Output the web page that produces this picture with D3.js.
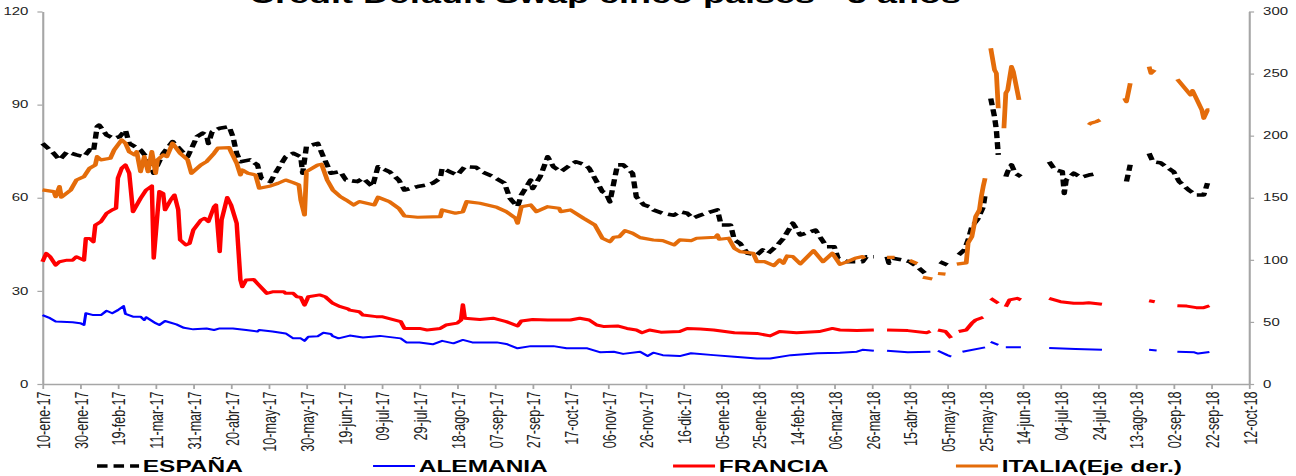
<!DOCTYPE html>
<html>
<head>
<meta charset="utf-8">
<script src="https://cdn.jsdelivr.net/npm/d3@7"></script>
<style>
  html, body { margin: 0; padding: 0; background: #ffffff; }
  svg { display: block; font-family: "Liberation Sans", Arial, sans-serif; }
</style>
</head>
<body>
<svg id="chart" width="1296" height="476"></svg>
<script>
// ---- Data -------------------------------------------------------------
const chartTitle = "Credit Default Swap cinco países - 5 años";

const xTickLabels = ["10-ene-17","30-ene-17","19-feb-17","11-mar-17","31-mar-17","20-abr-17",
  "10-may-17","30-may-17","19-jun-17","09-jul-17","29-jul-17","18-ago-17","07-sep-17",
  "27-sep-17","17-oct-17","06-nov-17","26-nov-17","16-dic-17","05-ene-18","25-ene-18",
  "14-feb-18","06-mar-18","26-mar-18","15-abr-18","05-may-18","25-may-18","14-jun-18",
  "04-jul-18","24-jul-18","13-ago-18","02-sep-18","22-sep-18","12-oct-18"];
const leftTicks = [0, 30, 60, 90, 120];
const rightTicks = [0, 50, 100, 150, 200, 250, 300];
const seriesNames = ["ESPAÑA", "ALEMANIA", "FRANCIA", "ITALIA(Eje der.)"];

// CDS 5 años (pb). null = día sin cotización
const espana = [["2017-01-10",77.5],["2017-01-16",74.3],["2017-01-19",72.2],["2017-01-23",74.8],["2017-01-28",73.8],["2017-02-01",73.2],["2017-02-04",75.4],["2017-02-06",74.8],["2017-02-08",82.9],["2017-02-09",83.4],["2017-02-13",80.2],["2017-02-17",79.1],["2017-02-20",79.7],["2017-02-23",81.8],["2017-02-25",77.5],["2017-03-03",75.4],["2017-03-06",73.2],["2017-03-10",67.9],["2017-03-15",74.3],["2017-03-20",78.1],["2017-03-26",74.3],["2017-03-28",73.2],["2017-04-02",79.7],["2017-04-05",80.8],["2017-04-07",80.2],["2017-04-08",77.5],["2017-04-10",81.3],["2017-04-14",82.4],["2017-04-19",82.9],["2017-04-21",79.7],["2017-04-23",74.3],["2017-04-25",71.6],["2017-04-30",72.2],["2017-05-04",70.6],["2017-05-06",66.3],["2017-05-11",65.2],["2017-05-14",68.4],["2017-05-19",73.2],["2017-05-23",74.3],["2017-05-27",73.2],["2017-05-28",67.9],["2017-05-30",76.5],["2017-06-05",77.5],["2017-06-08",73.2],["2017-06-12",67.9],["2017-06-17",68.4],["2017-06-20",65.7],["2017-06-26",65.2],["2017-06-29",66.3],["2017-07-04",63.6],["2017-07-07",70.0],["2017-07-13",68.4],["2017-07-18",65.7],["2017-07-21",62.5],["2017-07-28",63.6],["2017-08-02",64.1],["2017-08-05",64.7],["2017-08-09",66.3],["2017-08-10",69.5],["2017-08-14",68.4],["2017-08-18",67.3],["2017-08-22",70.0],["2017-08-28",69.8],["2017-08-31",68.4],["2017-09-06",66.8],["2017-09-12",64.7],["2017-09-15",59.8],["2017-09-19",57.1],["2017-09-21",60.9],["2017-09-26",65.7],["2017-09-27",63.0],["2017-10-01",66.8],["2017-10-05",73.2],["2017-10-08",70.0],["2017-10-12",68.4],["2017-10-17",70.6],["2017-10-20",71.6],["2017-10-25",70.6],["2017-10-27",69.5],["2017-10-29",67.3],["2017-11-03",62.0],["2017-11-05",61.4],["2017-11-07",58.7],["2017-11-09",64.7],["2017-11-11",70.6],["2017-11-14",70.6],["2017-11-19",67.9],["2017-11-21",60.3],["2017-11-25",57.7],["2017-11-28",57.1],["2017-11-30",56.1],["2017-12-05",55.0],["2017-12-11",54.4],["2017-12-14",55.5],["2017-12-18",55.0],["2017-12-21",53.4],["2017-12-25",54.4],["2017-12-28",55.0],["2018-01-03",56.1],["2018-01-05",51.2],["2018-01-10",51.2],["2018-01-12",46.4],["2018-01-15",45.3],["2018-01-19",42.1],["2018-01-24",41.6],["2018-01-27",43.2],["2018-01-30",42.1],["2018-02-04",44.8],["2018-02-07",46.9],["2018-02-12",51.8],["2018-02-16",48.0],["2018-02-19",48.6],["2018-02-24",49.6],["2018-02-27",46.9],["2018-03-02",44.2],["2018-03-06",44.2],["2018-03-08",40.5],["2018-03-13",39.4],["2018-03-21",39.4],["2018-03-23",41.0],["2018-03-27",41.0],["2018-03-30",null],["2018-04-03",41.0],["2018-04-04",38.9],["2018-04-06",40.5],["2018-04-12",39.9],["2018-04-15",39.4],["2018-04-19",37.8],["2018-04-23",35.7],["2018-04-27",null],["2018-05-01",39.4],["2018-05-05",38.3],["2018-05-08",null],["2018-05-11",41.6],["2018-05-14",43.2],["2018-05-16",46.4],["2018-05-18",50.7],["2018-05-21",53.0],["2018-05-24",57.0],["2018-05-25",61.0],["2018-05-27",null],["2018-05-28",92.0],["2018-05-30",86.1],["2018-05-31",81.8],["2018-06-01",73.8],["2018-06-03",null],["2018-06-05",66.8],["2018-06-06",68.4],["2018-06-08",70.6],["2018-06-10",67.9],["2018-06-13",66.8],["2018-06-20",null],["2018-06-28",71.6],["2018-07-01",69.0],["2018-07-05",68.4],["2018-07-06",61.4],["2018-07-07",65.7],["2018-07-11",67.9],["2018-07-15",66.6],["2018-07-19",67.3],["2018-07-23",67.7],["2018-08-01",null],["2018-08-08",65.2],["2018-08-10",70.6],["2018-08-15",null],["2018-08-20",74.3],["2018-08-22",71.6],["2018-08-26",71.3],["2018-08-29",70.0],["2018-09-02",68.4],["2018-09-05",65.2],["2018-09-10",62.5],["2018-09-14",60.9],["2018-09-18",60.9],["2018-09-20",64.7]];

const alemania = [["2017-01-10",22.2],["2017-01-14",21.2],["2017-01-17",20.1],["2017-01-26",19.9],["2017-01-30",19.6],["2017-02-01",19.0],["2017-02-02",22.8],["2017-02-06",22.2],["2017-02-10",22.2],["2017-02-13",23.6],["2017-02-16",22.8],["2017-02-19",23.8],["2017-02-22",25.1],["2017-02-23",22.6],["2017-02-27",21.7],["2017-03-03",21.7],["2017-03-05",20.6],["2017-03-06",21.5],["2017-03-11",19.6],["2017-03-13",19.0],["2017-03-16",20.3],["2017-03-22",19.2],["2017-03-26",18.1],["2017-03-31",17.6],["2017-04-07",17.9],["2017-04-11",17.4],["2017-04-14",17.9],["2017-04-21",17.9],["2017-04-28",17.4],["2017-05-04",16.9],["2017-05-05",17.4],["2017-05-12",16.9],["2017-05-19",16.3],["2017-05-23",14.7],["2017-05-27",14.7],["2017-05-29",13.9],["2017-05-31",15.2],["2017-06-05",15.4],["2017-06-08",16.5],["2017-06-12",16.1],["2017-06-13",15.4],["2017-06-16",14.7],["2017-06-22",15.6],["2017-06-29",15.0],["2017-07-08",15.5],["2017-07-19",14.7],["2017-07-22",13.4],["2017-07-29",13.4],["2017-08-05",12.8],["2017-08-10",13.9],["2017-08-16",13.1],["2017-08-21",14.2],["2017-08-26",13.4],["2017-09-08",13.4],["2017-09-13",12.9],["2017-09-19",11.5],["2017-09-26",12.2],["2017-10-08",12.2],["2017-10-15",11.5],["2017-10-26",11.5],["2017-11-02",10.2],["2017-11-09",10.4],["2017-11-14",9.7],["2017-11-23",10.4],["2017-11-27",9.0],["2017-11-30",10.1],["2017-12-05",9.3],["2017-12-14",9.0],["2017-12-20",9.9],["2018-01-01",9.3],["2018-01-12",8.8],["2018-01-24",8.2],["2018-01-31",8.2],["2018-02-11",9.3],["2018-02-25",9.9],["2018-03-09",10.1],["2018-03-18",10.4],["2018-03-21",11.0],["2018-03-27",10.7],["2018-03-30",null],["2018-04-03",10.7],["2018-04-14",10.2],["2018-04-26",10.4],["2018-04-28",null],["2018-04-30",10.7],["2018-05-05",9.3],["2018-05-07",8.8],["2018-05-09",null],["2018-05-13",10.4],["2018-05-25",11.8],["2018-05-26",null],["2018-05-28",13.6],["2018-06-01",12.6],["2018-06-03",null],["2018-06-05",11.8],["2018-06-13",11.8],["2018-06-20",null],["2018-06-28",11.6],["2018-07-12",11.3],["2018-07-26",11.0],["2018-08-05",null],["2018-08-20",11.0],["2018-08-24",10.8],["2018-08-27",null],["2018-09-04",10.4],["2018-09-13",10.2],["2018-09-15",9.8],["2018-09-21",10.3]];

const francia = [["2017-01-10",39.4],["2017-01-12",42.1],["2017-01-14",41.0],["2017-01-17",38.3],["2017-01-19",39.4],["2017-01-23",39.9],["2017-01-26",39.9],["2017-01-28",41.0],["2017-02-01",39.9],["2017-02-02",46.9],["2017-02-04",46.9],["2017-02-06",45.8],["2017-02-07",51.2],["2017-02-10",52.3],["2017-02-13",55.0],["2017-02-16",56.1],["2017-02-18",56.6],["2017-02-19",66.3],["2017-02-21",69.5],["2017-02-23",70.6],["2017-02-25",67.9],["2017-02-27",55.5],["2017-03-03",59.8],["2017-03-06",62.5],["2017-03-09",63.8],["2017-03-10",40.5],["2017-03-12",55.0],["2017-03-13",62.0],["2017-03-15",61.4],["2017-03-16",56.1],["2017-03-19",59.3],["2017-03-21",60.9],["2017-03-23",56.1],["2017-03-24",46.4],["2017-03-27",44.8],["2017-03-29",45.3],["2017-03-31",49.6],["2017-04-04",52.8],["2017-04-06",53.4],["2017-04-08",52.3],["2017-04-11",57.1],["2017-04-12",57.7],["2017-04-14",42.6],["2017-04-15",52.8],["2017-04-18",60.1],["2017-04-20",57.7],["2017-04-23",51.8],["2017-04-25",33.5],["2017-04-26",31.3],["2017-04-28",33.5],["2017-05-02",33.7],["2017-05-04",32.4],["2017-05-09",29.2],["2017-05-12",29.7],["2017-05-18",29.7],["2017-05-19",29.2],["2017-05-23",29.2],["2017-05-25",28.1],["2017-05-27",27.9],["2017-05-29",25.4],["2017-05-31",28.1],["2017-06-06",28.7],["2017-06-09",28.1],["2017-06-13",26.0],["2017-06-17",24.9],["2017-06-21",24.2],["2017-06-22",23.8],["2017-06-27",23.3],["2017-06-29",22.2],["2017-07-06",21.7],["2017-07-09",21.7],["2017-07-16",20.6],["2017-07-19",20.1],["2017-07-21",17.9],["2017-07-29",17.9],["2017-08-02",17.4],["2017-08-09",17.9],["2017-08-12",19.0],["2017-08-18",19.6],["2017-08-20",20.6],["2017-08-21",25.5],["2017-08-22",21.2],["2017-08-30",20.8],["2017-09-06",21.2],["2017-09-13",20.1],["2017-09-19",18.7],["2017-09-21",20.3],["2017-09-27",20.8],["2017-10-05",20.6],["2017-10-17",20.6],["2017-10-22",21.2],["2017-10-27",20.6],["2017-10-31",19.0],["2017-11-04",18.5],["2017-11-11",18.7],["2017-11-16",17.9],["2017-11-21",17.4],["2017-11-24",16.5],["2017-11-28",17.4],["2017-12-04",16.7],["2017-12-14",16.9],["2017-12-18",17.9],["2017-12-25",17.7],["2018-01-01",17.4],["2018-01-12",16.5],["2018-01-24",16.3],["2018-01-31",15.5],["2018-02-05",16.9],["2018-02-14",16.5],["2018-02-26",16.9],["2018-03-05",17.9],["2018-03-09",17.4],["2018-03-18",17.2],["2018-03-27",17.4],["2018-03-30",null],["2018-04-03",17.4],["2018-04-14",17.2],["2018-04-24",16.5],["2018-04-26",17.0],["2018-04-28",null],["2018-04-30",17.4],["2018-05-04",16.9],["2018-05-07",14.8],["2018-05-09",null],["2018-05-11",16.9],["2018-05-15",17.4],["2018-05-18",19.6],["2018-05-20",20.6],["2018-05-24",21.5],["2018-05-26",null],["2018-05-28",27.6],["2018-06-01",26.0],["2018-06-03",null],["2018-06-05",24.9],["2018-06-07",27.1],["2018-06-11",27.6],["2018-06-13",27.1],["2018-06-20",null],["2018-06-28",27.6],["2018-07-04",26.5],["2018-07-11",26.0],["2018-07-16",26.0],["2018-07-19",26.2],["2018-07-26",25.7],["2018-08-05",null],["2018-08-20",26.8],["2018-08-23",26.5],["2018-08-27",null],["2018-09-04",25.2],["2018-09-09",25.1],["2018-09-14",24.6],["2018-09-18",24.6],["2018-09-21",25.2]];

const italia = [["2017-01-10",156.3],["2017-01-16",154.9],["2017-01-17",150.9],["2017-01-19",159.0],["2017-01-20",150.4],["2017-01-25",156.3],["2017-01-28",164.3],["2017-02-01",167.0],["2017-02-04",173.8],["2017-02-07",176.4],["2017-02-08",183.1],["2017-02-10",180.5],["2017-02-15",181.8],["2017-02-17",188.5],["2017-02-21",196.6],["2017-02-23",193.9],["2017-02-25",187.1],["2017-02-28",184.5],["2017-03-01",187.1],["2017-03-03",171.0],["2017-03-05",183.1],["2017-03-07",171.0],["2017-03-09",187.1],["2017-03-11",169.7],["2017-03-12",180.5],["2017-03-15",184.5],["2017-03-17",183.1],["2017-03-20",193.9],["2017-03-24",185.8],["2017-03-28",180.5],["2017-03-30",169.7],["2017-04-04",176.4],["2017-04-07",179.1],["2017-04-11",185.8],["2017-04-13",189.9],["2017-04-19",190.4],["2017-04-20",187.1],["2017-04-23",177.8],["2017-04-25",168.4],["2017-04-26",172.4],["2017-04-29",169.7],["2017-05-03",168.4],["2017-05-05",157.7],["2017-05-11",159.5],["2017-05-15",161.7],["2017-05-19",164.3],["2017-05-23",162.2],["2017-05-26",160.3],["2017-05-27",148.2],["2017-05-29",136.1],["2017-05-30",171.0],["2017-06-05",176.4],["2017-06-07",177.0],["2017-06-10",164.3],["2017-06-13",156.3],["2017-06-17",150.9],["2017-06-20",148.2],["2017-06-24",144.2],["2017-06-27",146.9],["2017-07-05",144.2],["2017-07-07",150.4],["2017-07-13",146.9],["2017-07-18",141.5],["2017-07-21",135.3],["2017-07-28",134.3],["2017-08-09",134.8],["2017-08-10",140.2],["2017-08-17",137.5],["2017-08-21",138.8],["2017-08-23",146.9],["2017-08-30",145.6],["2017-09-08",142.3],["2017-09-13",138.8],["2017-09-18",133.5],["2017-09-19",129.5],["2017-09-21",142.8],["2017-09-26",144.2],["2017-09-29",138.8],["2017-10-05",142.8],["2017-10-11",141.5],["2017-10-12",138.8],["2017-10-17",140.2],["2017-10-24",133.5],["2017-10-30",128.1],["2017-11-03",117.4],["2017-11-07",114.6],["2017-11-09",118.2],["2017-11-12",118.7],["2017-11-15",123.5],["2017-11-19",121.4],["2017-11-23",117.9],["2017-11-30",116.0],["2017-12-05",115.4],["2017-12-11",112.0],["2017-12-14",116.0],["2017-12-20",115.4],["2017-12-23",117.4],["2018-01-02",118.2],["2018-01-03",120.0],["2018-01-04",116.6],["2018-01-09",117.4],["2018-01-12",109.3],["2018-01-15",106.6],["2018-01-22",105.3],["2018-01-24",98.5],["2018-01-28",98.5],["2018-02-02",95.3],["2018-02-05",99.9],["2018-02-07",97.2],["2018-02-09",103.1],["2018-02-12",102.6],["2018-02-16",96.7],["2018-02-23",107.4],["2018-02-28",98.5],["2018-03-05",105.3],["2018-03-09",96.4],["2018-03-13",98.5],["2018-03-17",101.2],["2018-03-21",102.6],["2018-03-22",101.0],["2018-03-30",null],["2018-04-03",102.0],["2018-04-07",102.0],["2018-04-10",null],["2018-04-15",99.5],["2018-04-19",97.0],["2018-04-21",null],["2018-04-22",86.0],["2018-04-27",84.5],["2018-04-29",null],["2018-04-30",89.0],["2018-05-04",88.5],["2018-05-08",null],["2018-05-10",96.5],["2018-05-15",97.5],["2018-05-16",113.6],["2018-05-18",118.7],["2018-05-19",126.7],["2018-05-20",134.8],["2018-05-22",140.2],["2018-05-23",150.9],["2018-05-24",159.0],["2018-05-25",165.7],["2018-05-27",null],["2018-05-28",270.4],["2018-05-30",253.0],["2018-05-31",250.3],["2018-06-01",222.1],["2018-06-03",null],["2018-06-04",206.0],["2018-06-05",234.2],["2018-06-06",236.8],["2018-06-08",255.6],["2018-06-09",251.6],["2018-06-12",228.8],["2018-06-20",null],["2018-07-19",208.7],["2018-07-20",210.0],["2018-07-23",211.3],["2018-07-25",212.7],["2018-08-01",null],["2018-08-07",230.2],["2018-08-08",227.4],["2018-08-10",242.2],["2018-08-15",null],["2018-08-20",255.6],["2018-08-21",250.3],["2018-08-23",253.0],["2018-08-26",null],["2018-09-04",245.4],["2018-09-08",238.2],["2018-09-11",232.8],["2018-09-12",236.3],["2018-09-14",230.2],["2018-09-17",220.7],["2018-09-18",214.0],["2018-09-20",220.7],["2018-09-21",220.7]];

// ---- Scales & layout ----------------------------------------------------
const meses = {ene:0, feb:1, mar:2, abr:3, may:4, jun:5, jul:6, ago:7, sep:8, oct:9, nov:10, dic:11};
const parseTick = s => { const [d, m, y] = s.split("-"); return new Date(2000 + (+y), meses[m], +d); };
const parseDay = d3.timeParse("%Y-%m-%d");

// the whole drawing is laid out on an 864-wide canvas and stretched 1.5x horizontally
const SX = 1.5;
const svg = d3.select("#chart");
const g = svg.append("g").attr("transform", `scale(${SX},1)`);

const tickDates = xTickLabels.map(parseTick);
const x = d3.scaleTime()
  .domain([tickDates[0], tickDates[tickDates.length - 1]])
  .range([42.5 / SX, 1249 / SX]);
const yL = d3.scaleLinear().domain([0, 120]).range([384, 11.5]);
const yR = d3.scaleLinear().domain([0, 300]).range([384, 11.5]);

const axisColor = "#a6a6a6";
const textColor = "#222222";

// ---- Title (runs off the top edge of the canvas) ------------------------
g.append("text")
  .attr("x", 605 / SX).attr("y", 3)
  .attr("text-anchor", "middle")
  .attr("font-size", 24).attr("font-weight", "bold").attr("fill", "#000")
  .text(chartTitle);

// ---- Axes -----------------------------------------------------------------
function styleAxis(sel) {
  sel.select(".domain").attr("stroke", axisColor).attr("stroke-width", 1.4);
  sel.selectAll(".tick line").attr("stroke", axisColor).attr("stroke-width", 1.2);
  sel.selectAll(".tick text").attr("fill", textColor).attr("font-family", "Liberation Sans, Arial, sans-serif");
}

const leftAxis = g.append("g")
  .attr("transform", `translate(${x.range()[0]},0)`)
  .call(d3.axisLeft(yL).tickValues(leftTicks).tickSize(3.4).tickSizeOuter(0).tickPadding(6));
styleAxis(leftAxis);
leftAxis.selectAll(".tick text").attr("font-size", 10);

const rightAxis = g.append("g")
  .attr("transform", `translate(${x.range()[1]},0)`)
  .call(d3.axisRight(yR).tickValues(rightTicks).tickSize(3.4).tickSizeOuter(0).tickPadding(6));
styleAxis(rightAxis);
rightAxis.selectAll(".tick text").attr("font-size", 10);

const bottomAxis = g.append("g")
  .attr("transform", `translate(0,${yL(0)})`)
  .call(d3.axisBottom(x).tickValues(tickDates).tickFormat((d, i) => xTickLabels[i])
    .tickSize(5).tickSizeOuter(0));
styleAxis(bottomAxis);
bottomAxis.selectAll(".tick text")
  .attr("font-size", 12.6)
  .attr("transform", "rotate(-90)")
  .attr("text-anchor", "end")
  .attr("x", -7.5).attr("y", 0).attr("dy", "0.36em");

// ---- Lines ----------------------------------------------------------------
const series = [
  {name: seriesNames[0], data: espana,   y: yL, color: "#000000", width: 3.6, dash: "7,4"},
  {name: seriesNames[1], data: alemania, y: yL, color: "#0000ff", width: 2.0, dash: null},
  {name: seriesNames[2], data: francia,  y: yL, color: "#ff0000", width: 3.0, dash: null},
  {name: seriesNames[3], data: italia,   y: yR, color: "#e46c0a", width: 3.2, dash: null}
];

series.forEach(s => {
  const line = d3.line()
    .defined(d => d[1] != null)
    .x(d => x(parseDay(d[0])))
    .y(d => s.y(d[1]));
  g.append("path")
    .datum(s.data)
    .attr("fill", "none")
    .attr("stroke", s.color)
    .attr("stroke-width", s.width)
    .attr("stroke-linejoin", "round")
    .attr("stroke-dasharray", s.dash)
    .attr("d", line);
});

// ---- Legend -----------------------------------------------------------------
const legendX = [64.7, 248.7, 448.7, 637.3];
const legend = g.append("g").attr("transform", "translate(0,466)");
series.forEach((s, i) => {
  const item = legend.append("g").attr("transform", `translate(${legendX[i]},0)`);
  item.append("line")
    .attr("x1", 0).attr("x2", 28).attr("y1", 0).attr("y2", 0)
    .attr("stroke", s.color).attr("stroke-width", s.width)
    .attr("stroke-dasharray", s.dash);
  item.append("text")
    .attr("x", 30.5).attr("y", 0).attr("dy", "0.36em")
    .attr("font-size", 16.3).attr("font-weight", "bold").attr("fill", "#000")
    .text(s.name);
});
</script>
</body>
</html>
